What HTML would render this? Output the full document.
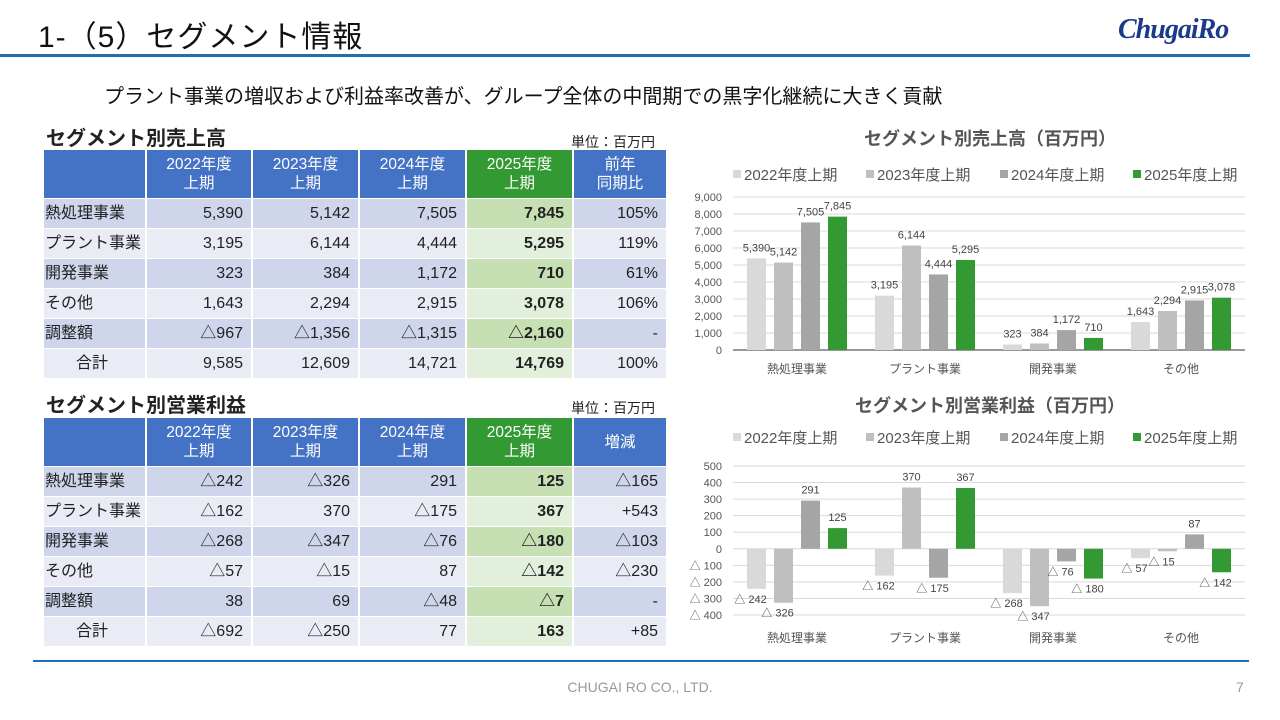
<!DOCTYPE html>
<html><head><meta charset="utf-8">
<style>
*{margin:0;padding:0;box-sizing:border-box}
body{width:1280px;height:720px;background:#fff;position:relative;overflow:hidden;font-family:"Liberation Sans","Noto Sans CJK JP",sans-serif;color:#222}
.abs{position:absolute}
table{position:absolute;border-collapse:separate;border-spacing:2px 1px;font-size:16px;table-layout:fixed}
td,th{padding:0 8px;white-space:nowrap;overflow:hidden}
th{background:#4472C4;color:#fff;font-weight:normal;line-height:19px;font-size:15.5px;text-align:center;vertical-align:middle}
th.g{background:#339933}
td{text-align:right;line-height:28px;height:29px;vertical-align:middle}
td.l{text-align:left;padding-left:1px}
td.c{text-align:left;padding-left:32px}
tr.o td{background:#CFD5EA} tr.e td{background:#E9EBF5}
tr.o td.g{background:#C6E0B4;font-weight:bold} tr.e td.g{background:#E2EFDA;font-weight:bold}
</style></head><body>
<div class="abs" style="left:38px;top:12px;font-size:30px;color:#111;letter-spacing:1px">1-（5）セグメント情報</div>
<div class="abs" style="left:1118px;top:14px;font-family:'Liberation Serif',serif;font-style:italic;font-weight:bold;font-size:28px;color:#1a3a8a;letter-spacing:-1px">ChugaiRo</div>
<div class="abs" style="left:0;top:54px;width:1250px;height:3px;background:#1F6FB4"></div>
<div class="abs" style="left:104px;top:80px;font-size:20px;color:#111">プラント事業の増収および利益率改善が、グループ全体の中間期での黒字化継続に大きく貢献</div>

<div class="abs" style="left:46px;top:122px;font-size:20px;font-weight:bold">セグメント別売上高</div>
<div class="abs" style="left:571px;top:132px;font-size:14px">単位：百万円</div>
<table style="left:42px;top:149px;width:624px">
<colgroup><col style="width:101px"><col style="width:104px"><col style="width:105px"><col style="width:105px"><col style="width:105px"><col style="width:92px"></colgroup>
<tr style="height:48px"><th></th><th>2022年度<br>上期</th><th>2023年度<br>上期</th><th>2024年度<br>上期</th><th class="g">2025年度<br>上期</th><th>前年<br>同期比</th></tr>
<tr class="o"><td class="l">熱処理事業</td><td>5,390</td><td>5,142</td><td>7,505</td><td class="g">7,845</td><td>105%</td></tr>
<tr class="e"><td class="l">プラント事業</td><td>3,195</td><td>6,144</td><td>4,444</td><td class="g">5,295</td><td>119%</td></tr>
<tr class="o"><td class="l">開発事業</td><td>323</td><td>384</td><td>1,172</td><td class="g">710</td><td>61%</td></tr>
<tr class="e"><td class="l">その他</td><td>1,643</td><td>2,294</td><td>2,915</td><td class="g">3,078</td><td>106%</td></tr>
<tr class="o"><td class="l">調整額</td><td>△967</td><td>△1,356</td><td>△1,315</td><td class="g">△2,160</td><td>-</td></tr>
<tr class="e"><td class="c">合計</td><td>9,585</td><td>12,609</td><td>14,721</td><td class="g">14,769</td><td>100%</td></tr>
</table>

<div class="abs" style="left:46px;top:389px;font-size:20px;font-weight:bold">セグメント別営業利益</div>
<div class="abs" style="left:571px;top:398px;font-size:14px">単位：百万円</div>
<table style="left:42px;top:417px;width:624px">
<colgroup><col style="width:101px"><col style="width:104px"><col style="width:105px"><col style="width:105px"><col style="width:105px"><col style="width:92px"></colgroup>
<tr style="height:48px"><th></th><th>2022年度<br>上期</th><th>2023年度<br>上期</th><th>2024年度<br>上期</th><th class="g">2025年度<br>上期</th><th>増減</th></tr>
<tr class="o"><td class="l">熱処理事業</td><td>△242</td><td>△326</td><td>291</td><td class="g">125</td><td>△165</td></tr>
<tr class="e"><td class="l">プラント事業</td><td>△162</td><td>370</td><td>△175</td><td class="g">367</td><td>+543</td></tr>
<tr class="o"><td class="l">開発事業</td><td>△268</td><td>△347</td><td>△76</td><td class="g">△180</td><td>△103</td></tr>
<tr class="e"><td class="l">その他</td><td>△57</td><td>△15</td><td>87</td><td class="g">△142</td><td>△230</td></tr>
<tr class="o"><td class="l">調整額</td><td>38</td><td>69</td><td>△48</td><td class="g">△7</td><td>-</td></tr>
<tr class="e"><td class="c">合計</td><td>△692</td><td>△250</td><td>77</td><td class="g">163</td><td>+85</td></tr>
</table>

<svg class="abs" style="left:0;top:0" width="1280" height="720" id="svg"></svg>

<div class="abs" style="left:33px;top:660px;width:1216px;height:2px;background:#1F6FB4"></div>
<div class="abs" style="left:0;width:1280px;top:679px;text-align:center;font-size:14px;color:#999">CHUGAI RO CO., LTD.</div>
<div class="abs" style="left:1236px;top:679px;font-size:14px;color:#999">7</div>

<script>
const categories=["熱処理事業","プラント事業","開発事業","その他"];
const seriesNames=["2022年度上期","2023年度上期","2024年度上期","2025年度上期"];
const sales2022=[5390,3195,323,1643];
const sales2023=[5142,6144,384,2294];
const sales2024=[7505,4444,1172,2915];
const sales2025=[7845,5295,710,3078];
const profit2022=[-242,-162,-268,-57];
const profit2023=[-326,370,-347,-15];
const profit2024=[291,-175,-76,87];
const profit2025=[125,367,-180,-142];
const salesTicks=[0,1000,2000,3000,4000,5000,6000,7000,8000,9000];
const profitTicks=[-400,-300,-200,-100,0,100,200,300,400,500];
const colors=["#D9D9D9","#BFBFBF","#A5A5A5","#339933"];
const NS="http://www.w3.org/2000/svg";
const svg=document.getElementById('svg');
function mk(t,a,txt){const e=document.createElementNS(NS,t);for(const k in a)e.setAttribute(k,a[k]);if(txt!==undefined)e.textContent=txt;svg.appendChild(e);return e;}
function fmt(v){const s=Math.abs(v).toLocaleString('en-US');return v<0?'△ '+s:s;}
function drawChart(o){
  const y=v=>o.y0-(v-o.vmin)/(o.vmax-o.vmin)*(o.y0-o.y1);
  const x0=733,x1=1245,gw=(x1-x0)/categories.length;
  const xc=i=>x0+gw*(i+0.5);
  let t=mk('text',{x:990,y:o.titleY,'text-anchor':'middle','font-size':18,'font-weight':'bold',fill:'#555'},o.title);
  
  
  const lx=[733,866,1000,1133];
  seriesNames.forEach((n,s)=>{
    let r=mk('rect',{x:lx[s],y:o.legY-5,width:8,height:8,fill:colors[s]});
    
    
    let lt=mk('text',{x:lx[s]+11,y:o.legY+5,'font-size':15,fill:'#555'},n);
    
    
  });
  o.ticks.forEach(v=>{
    let g=mk('line',{x1:x0,x2:x1,y1:y(v),y2:y(v),stroke:v===0&&o.key==='sales'?'#333':'#D9D9D9','stroke-width':1});
    
    
    let tl=mk('text',{x:722,y:y(v)+4,'text-anchor':'end','font-size':11,fill:'#555'},fmt(v));
    
    
  });
  const bw=19,step=27;
  categories.forEach((c,i)=>{
    let cl=mk('text',{x:xc(i),y:o.catY,'text-anchor':'middle','font-size':12,fill:'#555'},c);
    
    
    o.data.forEach((arr,s)=>{
      const v=arr[i];const bx=xc(i)-2*step+s*step+(step-bw)/2;
      const ya=y(v),yb=y(0);
      let b=mk('rect',{x:bx,y:Math.min(ya,yb),width:bw,height:Math.abs(yb-ya),fill:colors[s]});
      
      
      const ly=v>=0?ya-7:ya+14;
      let vl=mk('text',{x:bx+bw/2-(v<0?6:0),y:ly,'text-anchor':'middle','font-size':11,fill:'#444'},fmt(v));
      
      
    });
  });
}
drawChart({key:'sales',title:'セグメント別売上高（百万円）',titleY:145,legY:175,catY:373,y0:350,y1:197,vmin:0,vmax:9000,ticks:salesTicks,data:[sales2022,sales2023,sales2024,sales2025]});
drawChart({key:'profit',title:'セグメント別営業利益（百万円）',titleY:412,legY:438,catY:642,y0:615,y1:466,vmin:-400,vmax:500,ticks:profitTicks,data:[profit2022,profit2023,profit2024,profit2025]});
</script>
</body></html>
